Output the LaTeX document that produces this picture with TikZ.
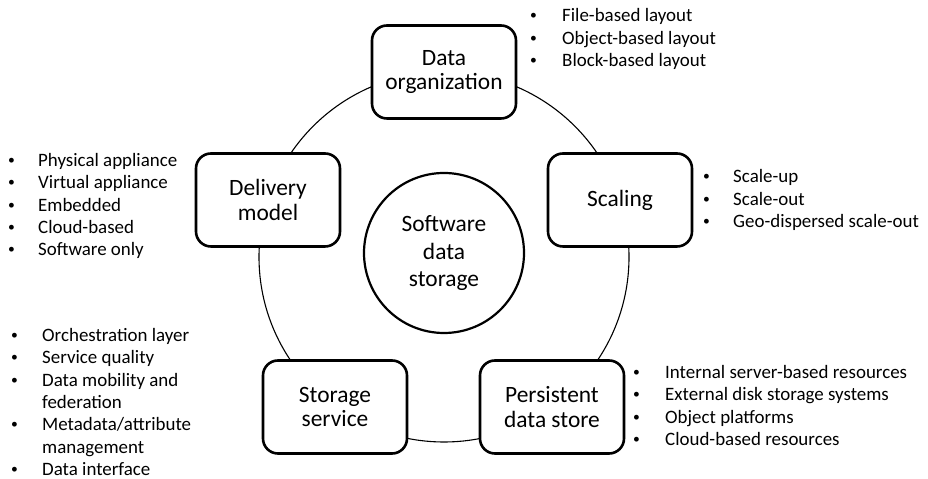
\documentclass[tikz,border=0pt]{standalone}
\usepackage{fontspec}
\setmainfont{Carlito}
\newcommand{\dotmark}{\raisebox{0.1em}{\scalebox{0.72}{\textbullet}}}
\newcommand{\itm}[2][32]{\makebox[#1bp][l]{\dotmark}#2}
\newcommand{\cnt}[2][32]{\hspace*{#1bp}#2}

\begin{document}
\begin{tikzpicture}[x=1bp,y=1bp,inner sep=0pt,
  box/.style={draw,line width=2.6bp,rounded corners=15bp,fill=white,minimum width=144bp,minimum height=93bp,align=center,font=\fontsize{23.5}{25}\selectfont},
  hub/.style={draw,circle,line width=2.2bp,minimum size=160bp,align=center,font=\fontsize{23.5}{28}\selectfont},
  list/.style={anchor=west,align=left,font=\fontsize{19}{22.4}\selectfont}]
\useasboundingbox (0,0) rectangle (928,479);
% ring behind the five boxes
\draw[line width=1.1bp] (444,222) circle (185bp);
\node[hub] (sds) at (444,226) {Software\\data\\storage};
\node[box] (org) at (444,407) {Data\\organization};
\node[box] (scal) at (620,279) {Scaling};
\node[box] (deliv) at (268,279) {Delivery\\model};
\node[box] (serv) at (335,72) {Storage\\service};
\node[box] (pers) at (552,72) {Persistent\\data store};
% bullet lists
\node[list] (orglist) at (530,440) {\itm{File-based layout}\\\itm{Object-based layout}\\\itm{Block-based layout}};
\node[list] (scallist) at (703,279) {\itm[30]{Scale-up}\\\itm[30]{Scale-out}\\\itm[30]{Geo-dispersed scale-out}};
\node[list] (delivlist) at (8,273) {\itm[30]{Physical appliance}\\\itm[30]{Virtual appliance}\\\itm[30]{Embedded}\\\itm[30]{Cloud-based}\\\itm[30]{Software only}};
\node[list] (servlist) at (11,77) {\itm[31]{Orchestration layer}\\\itm[31]{Service quality}\\\itm[31]{Data mobility and}\\\cnt[31]{federation}\\\itm[31]{Metadata/attribute}\\\cnt[31]{management}\\\itm[31]{Data interface}};
\node[list] (perslist) at (633,73.5) {\itm{Internal server-based resources}\\\itm{External disk storage systems}\\\itm{Object platforms}\\\itm{Cloud-based resources}};
\end{tikzpicture}
\end{document}
